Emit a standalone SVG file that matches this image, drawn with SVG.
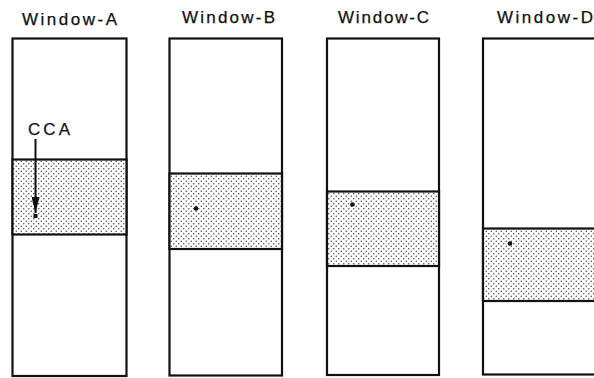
<svg xmlns="http://www.w3.org/2000/svg" width="594" height="378" viewBox="0 0 594 378">
<style>
.win{fill:#fff;stroke:#111;stroke-width:2.2}
.band{fill:url(#dots);stroke:#111;stroke-width:2.2}
.lbl{font-family:"Liberation Sans",Arial,sans-serif;font-size:17px;fill:#111;stroke:#111;stroke-width:0.25}
.dot{fill:#111}
</style>
<defs>
<pattern id="dots" width="5" height="5" patternUnits="userSpaceOnUse">
<rect width="5" height="5" fill="#fff"/>
<circle cx="1.25" cy="1.25" r="0.75" fill="#444"/>
<circle cx="3.75" cy="3.75" r="0.75" fill="#444"/>
</pattern>
<marker id="ah" markerWidth="16" markerHeight="8" refX="16" refY="4" orient="auto" markerUnits="userSpaceOnUse" viewBox="0 0 16 8">
<path d="M0,0 L16,4 L0,8 Z" fill="#111"/>
</marker>
</defs>
<g id="window-a">
<rect class="win" x="12.5" y="38.5" width="114" height="337.5"/>
<rect class="band" x="12.5" y="159.5" width="114" height="75"/>
<rect class="dot" x="33.5" y="214" width="4" height="4"/>
<text class="lbl" x="22" y="25" textLength="95" lengthAdjust="spacing">Window-A</text>
</g>
<g id="window-b">
<rect class="win" x="169.5" y="38.5" width="112.5" height="337"/>
<rect class="band" x="169.5" y="173.5" width="112.5" height="75.5"/>
<circle class="dot" cx="196" cy="208.5" r="2.3"/>
<text class="lbl" x="182" y="23" textLength="93" lengthAdjust="spacing">Window-B</text>
</g>
<g id="window-c">
<rect class="win" x="327" y="38.5" width="112" height="336.5"/>
<rect class="band" x="327" y="191.5" width="112" height="74.5"/>
<circle class="dot" cx="352.5" cy="204.5" r="2.3"/>
<text class="lbl" x="338" y="23" textLength="91" lengthAdjust="spacing">Window-C</text>
</g>
<g id="window-d">
<rect class="win" x="483" y="38.5" width="125" height="336"/>
<rect class="band" x="483" y="228.5" width="125" height="72.5"/>
<circle class="dot" cx="510" cy="243.5" r="2.3"/>
<text class="lbl" x="497" y="23" textLength="96" lengthAdjust="spacing">Window-D</text>
</g>
<g id="connectors">
<text class="lbl" x="28" y="135" textLength="42" lengthAdjust="spacing">CCA</text>
<line x1="35.5" y1="139" x2="35.5" y2="213" stroke="#111" stroke-width="2" marker-end="url(#ah)"/>
</g>
</svg>
